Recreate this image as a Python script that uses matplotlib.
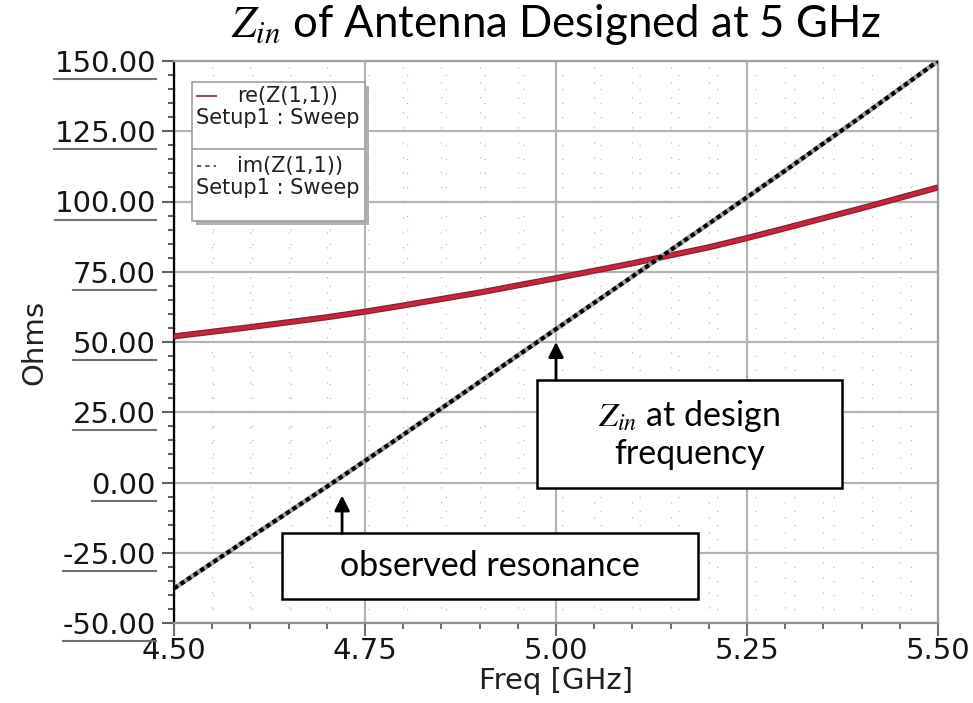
import matplotlib
matplotlib.use('Agg')
import matplotlib.pyplot as plt
from matplotlib.patches import Rectangle
from matplotlib.lines import Line2D
from matplotlib.ticker import MultipleLocator, FormatStrFormatter
from matplotlib.transforms import IdentityTransform

# ---- data ----
freq = [4.50, 4.60, 4.70, 4.75, 4.80, 4.90, 5.00, 5.10, 5.20, 5.25, 5.30, 5.40, 5.50]
re_z = [52.0, 55.3, 58.8, 60.8, 63.0, 67.6, 72.7, 78.0, 83.7, 87.0, 90.5, 97.6, 105.0]
im_z = [-37.7, -19.5, -1.5, 7.7, 17.0, 35.8, 54.6, 73.3, 92.1, 101.5, 111.0, 130.3, 150.0]

title_txt = r"$Z_{in}$ of Antenna Designed at 5 GHz"
xlabel_txt = "Freq [GHz]"
ylabel_txt = "Ohms"
legend_labels = ["re(Z(1,1))", "im(Z(1,1))"]
legend_sub = "Setup1 : Sweep"
ann_design = (5.00, 50.0, r"$Z_{in}$ at design" + "\nfrequency")
ann_reson = (4.72, -4.6, "observed resonance")

plt.rcParams['mathtext.fontset'] = 'stix'

W, H = 973, 703
fig = plt.figure(figsize=(W / 100, H / 100), dpi=100)
ax = fig.add_axes([174 / W, 1 - 623 / H, (938 - 174) / W, (623 - 61) / H])

ax.set_xlim(4.5, 5.5)
ax.set_ylim(-50, 150)

# grid
ax.xaxis.set_major_locator(MultipleLocator(0.25))
ax.xaxis.set_minor_locator(MultipleLocator(0.05))
ax.yaxis.set_major_locator(MultipleLocator(25))
ax.yaxis.set_minor_locator(MultipleLocator(5))
ax.grid(True, which='major', color='#b4b4b4', lw=1.6, zorder=0)
ax.grid(True, which='minor', axis='x', color='#b8b8b8', lw=0.9, ls=(0, (1, 11)), zorder=0)
ax.grid(True, which='minor', axis='y', color='#b8b8b8', lw=0.9, ls=(0, (1, 30)), zorder=0)
ax.set_axisbelow(True)

# curves
ax.plot(freq, re_z, color='#7a2630', lw=4.4, solid_capstyle='butt', zorder=3)
ax.plot(freq, re_z, color='#d0203e', lw=2.6, solid_capstyle='butt', zorder=4)
ax.plot(freq, im_z, color='#a0a0a0', lw=3.4, solid_capstyle='butt', zorder=3)
ax.plot(freq, im_z, color='black', lw=3.0, ls=(0, (1.1, 0.8)), zorder=4)

# spines / ticks
for s in ['top', 'right']:
    ax.spines[s].set_color('#a0a0a0')
    ax.spines[s].set_linewidth(1.6)
ax.spines['left'].set_color('black')
ax.spines['left'].set_linewidth(1.6)
ax.spines['bottom'].set_color('#909090')
ax.spines['bottom'].set_linewidth(1.6)

ax.xaxis.set_major_formatter(FormatStrFormatter('%.2f'))
ax.yaxis.set_major_formatter(FormatStrFormatter('%.2f'))
ax.tick_params(axis='y', which='major', direction='out', length=9, width=1.5, color='#606060', pad=4)
ax.tick_params(axis='y', which='minor', direction='out', length=4, width=1.5, color='#606060')
ax.tick_params(axis='x', which='major', direction='out', length=9, width=1.5, color='#707070', pad=1)
ax.tick_params(axis='x', which='minor', direction='out', length=4, width=1.5, color='#707070')
for lab in ax.get_xticklabels() + ax.get_yticklabels():
    lab.set_fontfamily('DejaVu Sans')
    lab.set_fontsize(21)
    lab.set_color('#151515')

ax.set_xlabel(xlabel_txt, fontfamily='DejaVu Sans', fontsize=21, labelpad=1.5, color='#202020')
ax.set_ylabel(ylabel_txt, fontfamily='DejaVu Sans', fontsize=21, labelpad=4, color='#202020')

# title
fig.text((174 + 938) / 2 / W, 1 - 37 / H, title_txt, ha='center', va='baseline',
         fontfamily='Lato', fontsize=31.5)

# legend (manual, HFSS style)
lx0, ly0, lx1, ly1 = 192, 82, 365, 221
def px(x, y):
    return ((x - 174) / (938 - 174), 1 - (y - 61) / (623 - 61))
sx, sy = px(lx0 + 4, ly1 + 4)
ex, ey = px(lx1 + 4, ly0 + 4)
ax.add_patch(Rectangle((sx, sy), ex - sx, ey - sy, transform=ax.transAxes,
                       facecolor='#b0b0b0', edgecolor='none', zorder=6))
bx, by = px(lx0, ly1)
tx, ty = px(lx1, ly0)
ax.add_patch(Rectangle((bx, by), tx - bx, ty - by, transform=ax.transAxes,
                       facecolor='white', edgecolor='#a0a0a0', lw=1.2, zorder=7))
dx0, dy = px(lx0, 149)
dx1, _ = px(lx1, 149)
ax.add_line(Line2D([dx0, dx1], [dy, dy], transform=ax.transAxes, color='#a0a0a0', lw=1.2, zorder=8))
lf = dict(family='DejaVu Sans', size=15, color='#202020')
# entry 1
a, b = px(197, 96); c, _ = px(216, 96)
ax.add_line(Line2D([a, c], [b, b], transform=ax.transAxes, color='#8a5a5a', lw=1.5, zorder=8))
ax.text(*px(237, 96), legend_labels[0], transform=ax.transAxes, va='center', ha='left', zorder=9, **lf)
ax.text(*px(196, 118), legend_sub, transform=ax.transAxes, va='center', ha='left', zorder=9, **lf)
# entry 2
a, b = px(197, 166); c, _ = px(216, 166)
ax.add_line(Line2D([a, c], [b, b], transform=ax.transAxes, color='#606060', lw=1.5,
                   ls=(0, (2, 2)), zorder=8))
ax.text(*px(237, 166), legend_labels[1], transform=ax.transAxes, va='center', ha='left', zorder=9, **lf)
ax.text(*px(196, 188), legend_sub, transform=ax.transAxes, va='center', ha='left', zorder=9, **lf)

# annotation boxes
box_font = dict(family='Lato', size=24.5, color='black')
arrow_style = '-|>,head_length=0.9,head_width=0.45'
# design frequency box
ax.add_patch(Rectangle((4.975, -2.1), 5.374 - 4.975, 36.6 + 2.1, facecolor='white',
                       edgecolor='black', lw=1.8, zorder=10))
ax.text((4.975 + 5.374) / 2, 17.2, ann_design[2], ha='center', va='center',
        linespacing=1.15, zorder=11, **box_font)
ax.annotate('', xy=(ann_design[0], ann_design[1]), xytext=(ann_design[0], 36.6),
            arrowprops=dict(arrowstyle=arrow_style, color='black', lw=2,
                            shrinkA=0, shrinkB=0), zorder=10)
# resonance box
ax.add_patch(Rectangle((4.641, -41.3), 5.186 - 4.641, 41.3 - 18.1, facecolor='white',
                       edgecolor='black', lw=1.8, zorder=10))
ax.text((4.641 + 5.186) / 2, -29.7, ann_reson[2], ha='center', va='center', zorder=11, **box_font)
ax.annotate('', xy=(ann_reson[0], ann_reson[1]), xytext=(ann_reson[0], -18.1),
            arrowprops=dict(arrowstyle=arrow_style, color='black', lw=2,
                            shrinkA=0, shrinkB=0), zorder=10)

# underline y tick labels (HFSS style)
fig.canvas.draw()
r = fig.canvas.get_renderer()
ylo, yhi = ax.get_ylim()
for loc, lab in zip(ax.get_yticks(), ax.get_yticklabels()):
    if loc < ylo - 1e-9 or loc > yhi + 1e-9 or lab.get_text() == '':
        continue
    bb = lab.get_window_extent(r)
    yl = bb.y0 - 1
    fig.add_artist(Line2D([bb.x0, bb.x1], [yl, yl], transform=IdentityTransform(),
                          color='#707070', lw=1.5))

fig.savefig('out.png', dpi=100, facecolor='white')
